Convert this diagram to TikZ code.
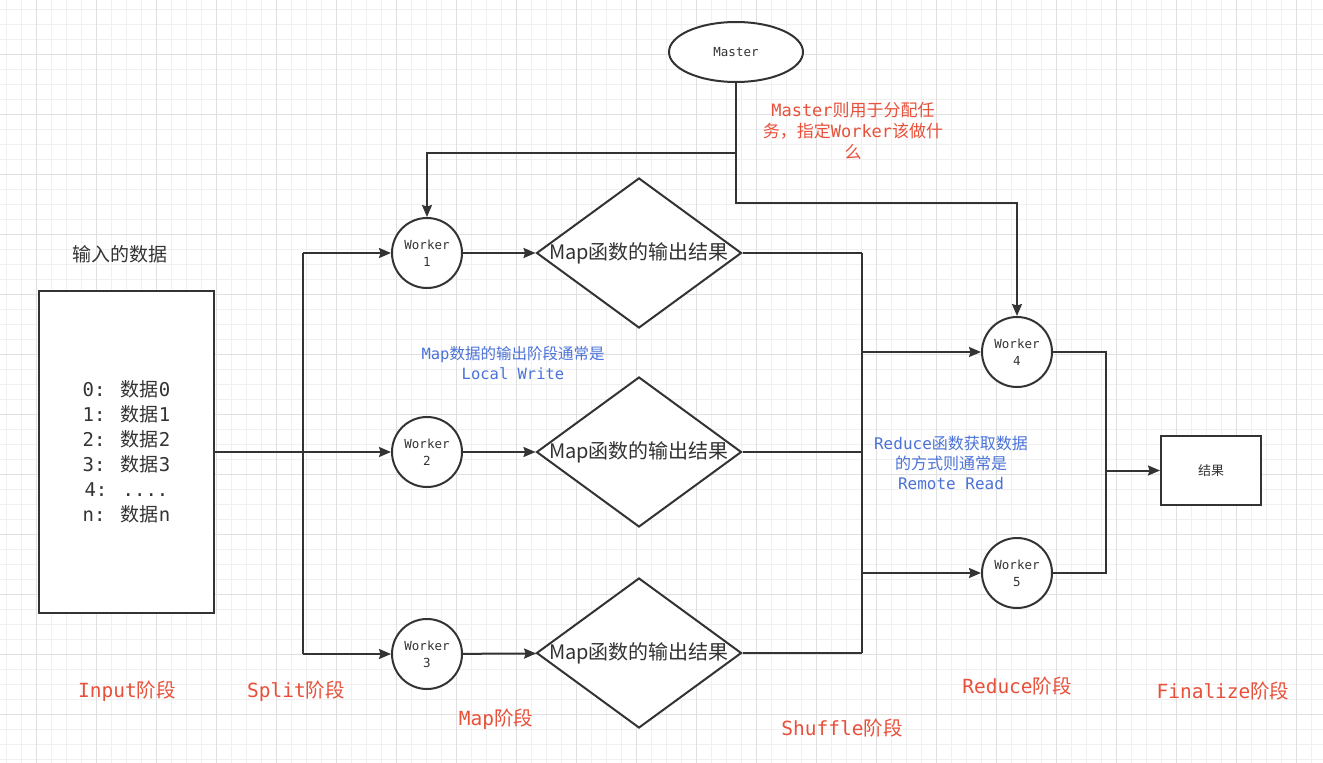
\documentclass[tikz,border=0pt]{standalone}
\usepackage{fontspec}
\setmainfont{DejaVu Sans Mono}
\newfontfamily\cjk{Noto Sans CJK SC}
\usetikzlibrary{arrows.meta,shapes.geometric}

\definecolor{ink}{HTML}{333333}
\definecolor{notered}{HTML}{E8503A}
\definecolor{noteblue}{HTML}{4A72D8}
\definecolor{gridminor}{HTML}{F0F0F0}
\definecolor{gridmajor}{HTML}{E0E0E0}

\newcommand{\zh}[1]{{\cjk #1}}
\newcommand{\fs}[2]{\fontsize{#1}{#2}\selectfont}

\tikzset{
  line/.style={draw=ink, line width=2pt},
  arrow/.style={line, -{Stealth[length=12pt,width=10pt,inset=1.5pt]}},
  worker/.style={circle, draw=ink, line width=2pt, fill=white, minimum size=70pt,
    inner sep=0pt, align=center, text=ink, font=\fs{12.5}{17}},
  mapout/.style={diamond, draw=ink, line width=2pt, fill=white, minimum width=205pt,
    minimum height=150pt, inner sep=0pt},
  maptext/.style={text=ink, font=\cjk\fs{20}{24}, inner sep=0pt},
  rednote/.style={text=notered, align=center, font=\fs{17}{21}},
  bluenote/.style={text=noteblue, align=center, font=\fs{16}{20}},
  stage/.style={text=notered, font=\fs{19.5}{24}},
}

\begin{document}
\begin{tikzpicture}[x=1pt, y=-1pt]
\useasboundingbox (0,0) rectangle (1323,763);
\fill[white] (0,0) rectangle (1323,763);

% grid
\foreach \gx in {0,...,87}
  \draw[gridminor, line width=1pt] (6.7+15*\gx,0) -- (6.7+15*\gx,763);
\foreach \gy in {0,...,50}
  \draw[gridminor, line width=1pt] (0,9.3+15*\gy) -- (1323,9.3+15*\gy);
\foreach \gx in {0,...,21}
  \draw[gridmajor, line width=1pt] (36.7+60*\gx,0) -- (36.7+60*\gx,763);
\foreach \gy in {0,...,11}
  \draw[gridmajor, line width=1pt] (0,54.3+60*\gy) -- (1323,54.3+60*\gy);

% input
\node[text=ink, font=\cjk\fs{19}{24}] (intitle) at (120,254) {输入的数据};
\node[draw=ink, line width=2pt, fill=white, minimum width=175pt, minimum height=322pt,
  align=center, text=ink, font=\fs{19}{25}] (input) at (126.5,452)
  {0: \zh{数据}0\\1: \zh{数据}1\\2: \zh{数据}2\\3: \zh{数据}3\\4: ....\\n: \zh{数据}n};

% master
\node[ellipse, draw=ink, line width=2pt, fill=white, minimum width=134pt,
  minimum height=60pt, text=ink, font=\fs{12.5}{17}] (master) at (736,52) {Master};
\node[rednote] (mnote) at (853,131)
  {Master\zh{则用于分配任}\\\zh{务，指定}Worker\zh{该做什}\\\zh{么}};

% workers
\node[worker] (w1) at (427,253) {Worker\\1};
\node[worker] (w2) at (427,452) {Worker\\2};
\node[worker] (w3) at (427,654) {Worker\\3};
\node[worker] (w4) at (1017,352) {Worker\\4};
\node[worker] (w5) at (1017,573) {Worker\\5};

% map output
\node[mapout] (d1) at (639,253) {};
\node[mapout] (d2) at (639,452) {};
\node[mapout] (d3) at (639,653) {};
\node[maptext] (d1t) at (d1) {Map函数的输出结果};
\node[maptext] (d2t) at (d2) {Map函数的输出结果};
\node[maptext] (d3t) at (d3) {Map函数的输出结果};

% result
\node[draw=ink, line width=2pt, fill=white, minimum width=100pt, minimum height=69pt,
  text=ink, font=\cjk\fs{13}{16}] (result) at (1211,470.5) {结果};

% notes
\node[bluenote, font=\fs{15.5}{20}] (localw) at (513,363)
  {Map\zh{数据的输出阶段通常是}\\Local Write};
\node[bluenote] (remoter) at (951,463)
  {Reduce\zh{函数获取数据}\\\zh{的方式则通常是}\\Remote Read};

% stages
\node[stage] (sinput) at (127,691) {Input\zh{阶段}};
\node[stage] (ssplit) at (296,691) {Split\zh{阶段}};
\node[stage] (smap) at (496,719) {Map\zh{阶段}};
\node[stage] (sshuf) at (842,728) {Shuffle\zh{阶段}};
\node[stage] (sreduce) at (1017,686) {Reduce\zh{阶段}};
\node[stage] (sfinal) at (1223,691) {Finalize\zh{阶段}};

% split
\coordinate (split) at (303,452);
\draw[line] (input.east) -- (split);
\draw[line] (split |- w1) -- (split |- w3);
\draw[arrow] (split) -- (w2);
\draw[arrow] (split |- w1) -- (w1);
\draw[arrow] (split |- w3) -- (w3);

% map
\foreach \k in {1,2,3}
  \draw[arrow] (w\k) -- (d\k);

% shuffle
\coordinate (shuf) at (862,452);
\foreach \k in {1,2,3}
  \draw[line] (d\k.east) -- (d\k.east -| shuf);
\draw[line] (shuf |- d1) -- (shuf |- d3);
\draw[arrow] (shuf |- w4) -- (w4);
\draw[arrow] (shuf |- w5) -- (w5);

% reduce
\coordinate (merge) at (1106,470.5);
\draw[line] (w4.east) -| (merge);
\draw[line] (w5.east) -| (merge);
\draw[arrow] (merge) -- (result);

% master
\coordinate (mfork) at (736,153);
\coordinate (mbend) at (736,203);
\draw[arrow] (master) -- (mbend) -| (w4.north);
\draw[arrow] (mfork) -| (w1.north);

\end{tikzpicture}
\end{document}
